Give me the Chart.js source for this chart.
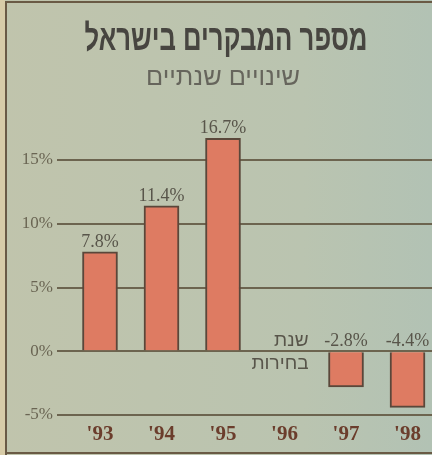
<!DOCTYPE html>
<html>
<head>
<meta charset="utf-8">
<script src="https://cdn.jsdelivr.net/npm/chart.js@4.4.1/dist/chart.umd.min.js"></script>
<style>
  html, body { margin: 0; padding: 0; background: #d9cfb0; overflow: hidden; }
  #wrap { width: 432px; height: 455px; }
</style>
</head>
<body>
<div id="wrap"><canvas id="myChart" width="432" height="455"></canvas></div>
<script>
// datos
const years = ["'93", "'94", "'95", "'96", "'97", "'98"];
const changes = [7.8, 11.4, 16.7, null, -2.8, -4.4];
const yTicks = [-5, 0, 5, 10, 15];
const title = 'מספר המבקרים בישראל';
const subtitle = 'שינויים שנתיים';
const noteLines = ['שנת', 'בחירות'];

// texto centrado y ajustado a un ancho dado
function fitText(ctx, text, cx, cy, width) {
    const w = ctx.measureText(text).width;
    ctx.save();
    ctx.translate(cx, cy);
    ctx.scale(width / w, 1);
    ctx.fillText(text, 0, 0);
    ctx.restore();
}

const paperPlugin = {
    id: 'paper',
    beforeDraw(chart) {
        const ctx = chart.ctx;
        ctx.save();
        // fondo de papel
        let g = ctx.createLinearGradient(0, 0, 432, 0);
        g.addColorStop(0, '#c0c4ac');
        g.addColorStop(0.7, '#bac4b0');
        g.addColorStop(1, '#b2c2b4');
        ctx.fillStyle = g;
        ctx.fillRect(0, 0, 432, 455);
        ctx.fillStyle = '#d8cca8';
        ctx.fillRect(0, 0, 5, 455);
        // marco
        ctx.strokeStyle = '#6a5a45';
        ctx.lineWidth = 2;
        ctx.beginPath();
        ctx.moveTo(6, 455);
        ctx.lineTo(6, 2);
        ctx.lineTo(432, 2);
        ctx.moveTo(6, 453);
        ctx.lineTo(432, 453);
        ctx.stroke();
        // titulos
        ctx.textAlign = 'center';
        ctx.textBaseline = 'middle';
        ctx.fillStyle = '#474540';
        ctx.font = 'bold 37px "Liberation Sans", "DejaVu Sans", sans-serif';
        fitText(ctx, title, 226, 40, 283);
        ctx.fillStyle = '#66655c';
        ctx.font = '25px "Liberation Sans", "DejaVu Sans", sans-serif';
        fitText(ctx, subtitle, 223, 78, 154);
        ctx.restore();
    },
    afterDatasetsDraw(chart) {
        const ctx = chart.ctx;
        const x = chart.scales.x;
        const y = chart.scales.y;
        const meta = chart.getDatasetMeta(0);
        ctx.save();
        ctx.fillStyle = '#58554a';
        ctx.font = '18px "Liberation Serif", "DejaVu Serif", serif';
        ctx.textAlign = 'center';
        ctx.textBaseline = 'alphabetic';
        meta.data.forEach((bar, i) => {
            const v = changes[i];
            if (v === null) return;
            const top = v >= 0 ? bar.y : y.getPixelForValue(0);
            ctx.fillText(v.toFixed(1) + '%', bar.x, top - 5);
        });
        // nota para el '96
        ctx.textAlign = 'right';
        ctx.font = '19px "Liberation Sans", "DejaVu Sans", sans-serif';
        const nx = x.getPixelForValue(3) + 24;
        ctx.fillText(noteLines[0], nx, y.getPixelForValue(0) - 5);
        ctx.fillText(noteLines[1], nx, y.getPixelForValue(0) + 18);
        ctx.restore();
    }
};

let myChart = document.getElementById('myChart').getContext('2d');

let massPopChart = new Chart(myChart, {
    type: 'bar',
    data: {
        datasets: [{
            data: changes.map((v, i) => ({ x: i, y: v })),
            backgroundColor: '#de7b62',
            borderColor: '#5a473a',
            borderWidth: 2,
            barThickness: 35,
            clip: false
        }]
    },
    options: {
        responsive: false,
        animation: false,
        events: [],
        plugins: {
            legend: { display: false },
            tooltip: { enabled: false }
        },
        layout: {
            padding: { left: 0, right: 0, top: 160, bottom: 0 }
        },
        scales: {
            x: {
                type: 'linear',
                offset: false,
                min: -0.699,
                max: 5.398,
                afterBuildTicks: (scale) => {
                    scale.ticks = years.map((_, i) => ({ value: i }));
                },
                afterFit: (scale) => { scale.height = 40; },
                grid: { display: false, drawTicks: false },
                border: { display: false },
                ticks: {
                    autoSkip: false,
                    maxRotation: 0,
                    padding: 7,
                    color: '#6b3d2c',
                    font: { family: '"Liberation Serif", "DejaVu Serif", serif', size: 21, weight: 'bold' },
                    callback: (value) => years[value]
                }
            },
            y: {
                min: -5,
                max: 15,
                afterBuildTicks: (scale) => {
                    scale.ticks = yTicks.map(v => ({ value: v }));
                },
                afterFit: (scale) => { scale.width = 57; },
                grid: {
                    color: '#6c644f',
                    lineWidth: 2,
                    drawTicks: false
                },
                border: { display: false },
                ticks: {
                    padding: 4,
                    color: '#6a6553',
                    font: { family: '"Liberation Serif", "DejaVu Serif", serif', size: 17 },
                    callback: (value) => value + '%'
                }
            }
        }
    },
    plugins: [paperPlugin]
});
</script>
</body>
</html>
